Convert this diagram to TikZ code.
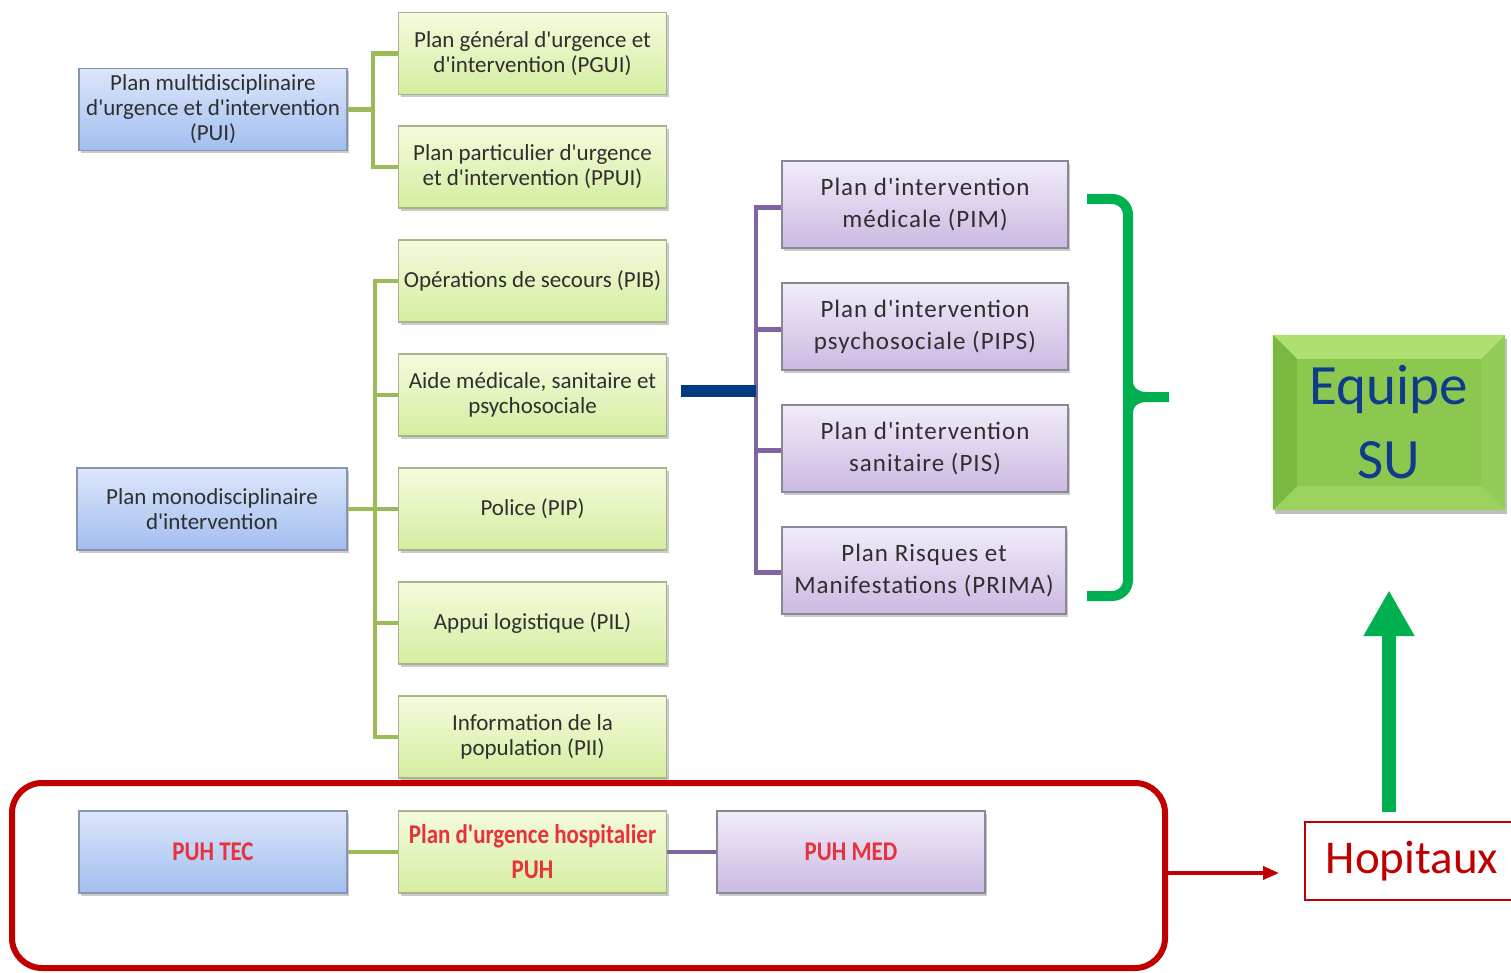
\documentclass[tikz,border=0pt]{standalone}
\usepackage{fontspec}
\setmainfont{Carlito}[Ligatures=TeXOff]
\newfontfamily\widefont[LetterSpace=4,Ligatures=TeXOff]{Carlito}
\newfontfamily\condfont[FakeStretch=0.85,Ligatures=TeXOff]{Carlito}
\usetikzlibrary{shadows,arrows.meta,calc,backgrounds}

\definecolor{bluetop}{HTML}{DCE6FA}
\definecolor{bluebot}{HTML}{A2BEF0}
\definecolor{blueedge}{HTML}{8795B0}
\definecolor{greentop}{HTML}{F4FBDD}
\definecolor{greenbot}{HTML}{D5EDA0}
\definecolor{greenedge}{HTML}{A7B58C}
\definecolor{purtop}{HTML}{F2ECF9}
\definecolor{purbot}{HTML}{CBB9E2}
\definecolor{puredge}{HTML}{8E8698}
\definecolor{linkgreen}{HTML}{9BBB59}
\definecolor{linkpurple}{HTML}{8064A2}
\definecolor{navybar}{HTML}{003A80}
\definecolor{brightgreen}{HTML}{00B050}
\definecolor{darkred}{HTML}{C00000}
\definecolor{puhred}{HTML}{E8313A}
\definecolor{boxtext}{HTML}{2F2F2F}
\definecolor{sublue}{HTML}{0E3C8A}
\definecolor{bevmid}{HTML}{8CC84F}
\definecolor{bevtop}{HTML}{B0DF72}
\definecolor{bevleft}{HTML}{7AB840}
\definecolor{bevright}{HTML}{94CC58}
\definecolor{bevbot}{HTML}{9AD15F}

\tikzset{
  plainbox/.style={draw, line width=1.3pt, minimum width=268pt, minimum height=82pt,
    inner sep=1pt, align=center, text=boxtext, font=\fontsize{23}{25}\selectfont,
    drop shadow={shadow xshift=2pt, shadow yshift=-3pt, opacity=0.35, fill=black!60}},
  bluebox/.style={plainbox, top color=bluetop, bottom color=bluebot, draw=blueedge},
  greenbox/.style={plainbox, top color=greentop, bottom color=greenbot, draw=greenedge},
  purplebox/.style={plainbox, top color=purtop, bottom color=purbot, draw=puredge},
  planbox/.style={purplebox, minimum width=286pt, minimum height=87pt,
    font=\widefont\fontsize{25}{32}\selectfont},
  puhtext/.style={text=puhred, font=\condfont\bfseries\fontsize{27}{35}\selectfont},
  glink/.style={draw=linkgreen, line width=4.5pt},
  plink/.style={draw=linkpurple, line width=4.5pt},
}

\begin{document}
\begin{tikzpicture}[x=1pt,y=-1pt]
\useasboundingbox (0,0) rectangle (1511,973);

% multidisciplinary plans
\node[bluebox] (pui) at (213,109.5) {Plan multidisciplinaire\\d'urgence et d'intervention\\(PUI)};
\node[greenbox] (pgui) at (532.5,53.5) {Plan général d'urgence et\\d'intervention (PGUI)};
\node[greenbox] (ppui) at (532.5,167) {Plan particulier d'urgence\\et d'intervention (PPUI)};

% monodisciplinary plans
\node[bluebox, minimum width=270pt] (mono) at (212,509) {Plan monodisciplinaire\\d'intervention};
\node[greenbox] (pib) at (532.5,281) {Opérations de secours (PIB)};
\node[greenbox] (aide) at (532.5,395) {Aide médicale, sanitaire et\\psychosociale};
\node[greenbox] (pip) at (532.5,509) {Police (PIP)};
\node[greenbox] (pil) at (532.5,623) {Appui logistique (PIL)};
\node[greenbox] (pii) at (532.5,737) {Information de la\\population (PII)};

% medical / health plans
\node[planbox] (pim) at (925,204.5) {Plan d'intervention\\médicale (PIM)};
\node[planbox] (pips) at (925,326.5) {Plan d'intervention\\psychosociale (PIPS)};
\node[planbox] (pis) at (925,448.5) {Plan d'intervention\\sanitaire (PIS)};
\node[planbox, minimum width=284pt] (prima) at (924,570.5) {Plan Risques et\\Manifestations (PRIMA)};

% hospital plans
\node[bluebox] (puhtec) at (213,852) {};
\node[puhtext] (puhtectxt) at (213,852) {PUH TEC};
\node[greenbox] (puh) at (532.5,852) {};
\node[puhtext, align=center] (puhtxt) at (532.5,852) {Plan d'urgence hospitalier\\PUH};
\node[purplebox] (puhmed) at (851,852) {};
\node[puhtext] (puhmedtxt) at (851,852) {PUH MED};

% tree connectors, multidisciplinary
\coordinate (jm) at (373,0);
\draw[glink] (pui.east) -- (pui.east -| jm);
\draw[glink] (pgui.west) -- (pgui.west -| jm) -- (ppui.west -| jm) -- (ppui.west);

% tree connectors, monodisciplinary
\coordinate (jd) at (375,0);
\draw[glink] (pib.west) -- (pib.west -| jd) -- (pii.west -| jd) -- (pii.west);
\draw[glink] (aide.west -| jd) -- (aide.west);
\draw[glink] (mono.east) -- (pip.west);
\draw[glink] (pil.west -| jd) -- (pil.west);

% link from medical aid to its plans
\coordinate (jp) at (756,0);
\draw[plink] ([yshift=-3pt]pim.west) -- ([yshift=-3pt]pim.west -| jp) -- ([yshift=-2pt]prima.west -| jp) -- ([yshift=-2pt]prima.west);
\draw[plink] ([yshift=-3pt]pips.west -| jp) -- ([yshift=-3pt]pips.west);
\draw[plink] ([yshift=-2pt]pis.west -| jp) -- ([yshift=-2pt]pis.west);
\draw[draw=navybar, line width=12pt] ([xshift=14pt,yshift=4pt]aide.east) -- ([yshift=4pt]aide.east -| jp);

% hospital row connectors
\draw[glink] (puhtec.east) -- (puh.west);
\draw[plink] (puh.east) -- (puhmed.west);

% brace grouping the four plans
\draw[brightgreen, line width=10pt, rounded corners=16pt]
  (1087,199) -- (1128,199) -- (1128,596) -- (1087,596);
\draw[brightgreen, line width=10pt] (1169,397) -- (1146,397) to[out=180,in=90] (1128,412);
\draw[brightgreen, line width=10pt] (1146,397) to[out=180,in=-90] (1128,382);

% Equipe SU bevelled block
\node[minimum width=232pt, minimum height=175pt, inner sep=0pt, align=center,
  text=sublue, font=\fontsize{57}{74}\selectfont] (equipe) at (1389,422.5) {Equipe\\SU};
\begin{scope}[on background layer]
  \fill[black, opacity=0.25] ([xshift=2pt,yshift=-4pt]equipe.north west) rectangle ([xshift=2pt,yshift=-4pt]equipe.south east);
  \coordinate (ia) at ($(equipe.north west)+(24,24)$);
  \coordinate (ib) at ($(equipe.north east)+(-24,24)$);
  \coordinate (ic) at ($(equipe.south east)+(-24,-24)$);
  \coordinate (id) at ($(equipe.south west)+(24,-24)$);
  \fill[bevtop] (equipe.north west) -- (equipe.north east) -- (ib) -- (ia) -- cycle;
  \fill[bevright] (equipe.north east) -- (equipe.south east) -- (ic) -- (ib) -- cycle;
  \fill[bevbot] (equipe.south east) -- (equipe.south west) -- (id) -- (ic) -- cycle;
  \fill[bevleft] (equipe.south west) -- (equipe.north west) -- (ia) -- (id) -- cycle;
  \fill[bevmid] (ia) rectangle (ic);
\end{scope}

% hospitals
\node[draw=darkred, line width=6pt, rounded corners=30pt, minimum width=1153pt,
  minimum height=185pt] (hosp) at (588.5,875.5) {};
\node[draw=darkred, line width=1.3pt, minimum width=208pt, minimum height=78pt,
  text=darkred, font=\fontsize{47}{52}\selectfont] (hop) at (1409,861) {\hspace*{6pt}Hopitaux};
\coordinate (hoptip) at (1279,873);
\draw[darkred, line width=3.5pt, -{Triangle[length=16pt,width=13pt]}] (hosp.east |- hoptip) -- (hoptip);
\draw[brightgreen, line width=14pt, -{Triangle[length=46pt,width=48pt]}]
  ([yshift=9pt]hop.north -| equipe.south) -- ([yshift=-80pt]equipe.south);
\end{tikzpicture}
\end{document}
